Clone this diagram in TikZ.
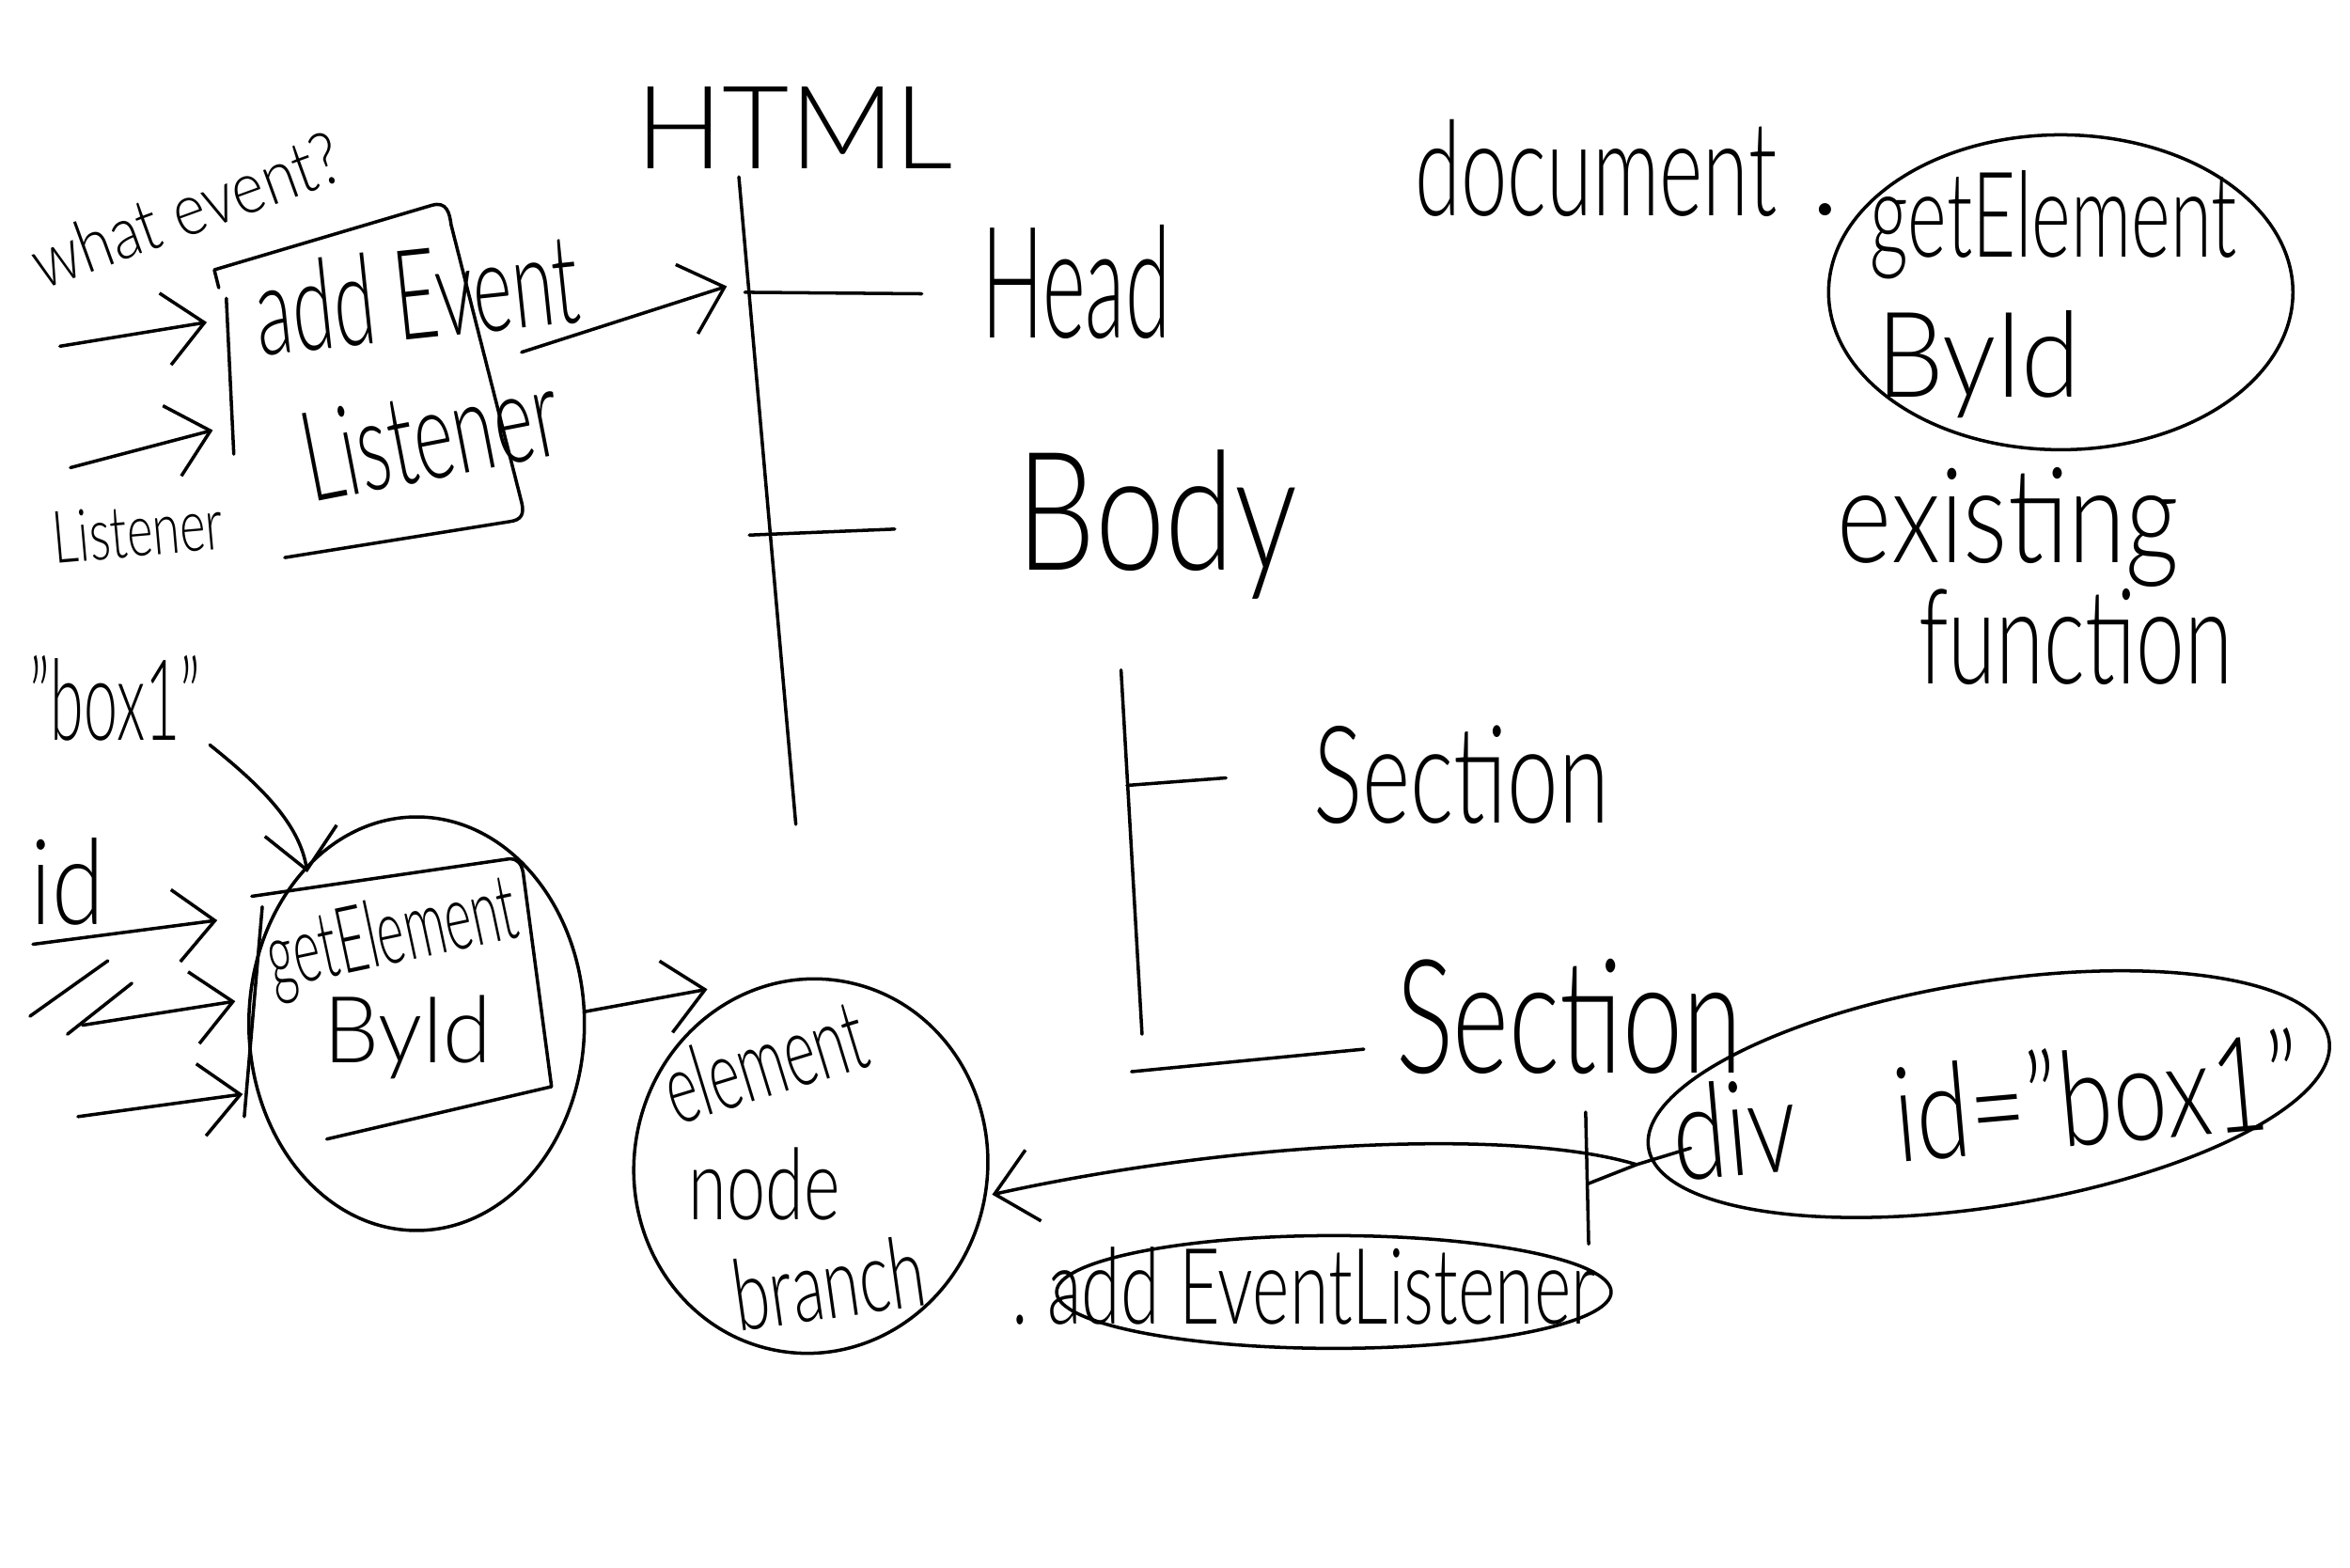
\documentclass[tikz,border=0pt]{standalone}
\usepackage{fontspec}
\setmainfont{Lato Light}
\usepackage{graphicx}
\usetikzlibrary{arrows.meta,shapes.geometric}
\newcommand\hwtext[3]{\fontsize{#1}{#1}\selectfont\scalebox{#2}[1]{#3}}
\tikzset{
  ink/.style={line width=1pt, line cap=round, line join=round},
  hwarrow/.style={ink, -{Straight Barb[length=12pt,width=22pt]}},
  lbl/.style={inner sep=0pt},
  bubble/.style={ink, draw, ellipse, inner sep=0pt},
}
\begin{document}
\begin{tikzpicture}[x=0.015944cm,y=-0.015944cm]
\useasboundingbox (0,0) rectangle (1568,1046);
\fill[white] (0,0) rectangle (1568,1046);

% ---------- addEventListener group (top left)
\node[lbl,rotate=20] (whatev) at (124,140) {\hwtext{22}{0.85}{what event?}};
\node[lbl,rotate=6] (addev) at (278,196) {\hwtext{38}{0.6}{add Event}};
\node[lbl,rotate=11] (listn) at (287,290) {\hwtext{38}{0.6}{Listener}};
\node[lbl,rotate=5] (listlab) at (92,354) {\hwtext{22}{0.68}{Listener}};
\draw[ink] (146,192) -- (143,180) -- (288,137) .. controls (298,134) and (300,142) .. (301,150)
  -- (348,335) .. controls (350,343) and (348,347) .. (340,348) -- (190,372);
\draw[ink] (151,199) -- (156,303);
\coordinate (a1s) at (40,231); \coordinate (a1e) at (138,215);
\coordinate (a2s) at (47,312); \coordinate (a2e) at (142,287);
\draw[hwarrow] (a1s) -- (a1e);
\draw[hwarrow] (a2s) -- (a2e);
\coordinate (a3s) at (348,235); \coordinate (a3e) at (485,191);
\draw[hwarrow] (a3s) -- (a3e);

% ---------- HTML tree
\node[lbl] (html) at (530,85) {\hwtext{35}{1}{HTML}};
\node[lbl] (head) at (718,188) {\hwtext{47}{0.53}{Head}};
\node[lbl] (body) at (772,350) {\hwtext{50}{0.76}{Body}};
\node[lbl] (sec1) at (975,517) {\hwtext{41}{0.68}{Section}};
\node[lbl] (sec2) at (1047,678) {\hwtext{48}{0.68}{Section}};
\coordinate (t0) at (493,118); \coordinate (t1) at (531,550);
\coordinate (hb0) at (497,195); \coordinate (hb1) at (615,196);
\coordinate (bb0) at (500,357); \coordinate (bb1) at (597,353);
\coordinate (v0) at (748,447); \coordinate (v1) at (762,690);
\coordinate (s1a) at (752,524); \coordinate (s1b) at (818,519);
\coordinate (s2a) at (755,715); \coordinate (s2b) at (910,700);
\coordinate (d0) at (1058,742); \coordinate (d1) at (1060,830);
\coordinate (dj) at (1059,790); \coordinate (J) at (1092,777);
\coordinate (dd) at (1128,766);
\draw[ink] (t0) -- (t1);
\draw[ink] (hb0) -- (hb1);
\draw[ink] (bb0) -- (bb1);
\draw[ink] (v0) -- (v1);
\draw[ink] (s1a) -- (s1b);
\draw[ink] (s2a) -- (s2b);
\draw[ink] (d0) -- (d1);
\draw[ink] (dj) -- (J) -- (dd);

% ---------- div id="box1"
\node[bubble,minimum width=7.33cm,minimum height=2.39cm,rotate=9] (divell) at (1327,730) {};
\node[lbl,rotate=5] (divtxt) at (1325,737) {\hwtext{40}{0.74}{div\quad id="box1"}};

% ---------- element node branch
\node[bubble,minimum width=3.76cm,minimum height=3.99cm,rotate=-10] (elem) at (541,778) {};
\node[lbl,rotate=17] (elem1) at (510,708) {\hwtext{30}{0.6}{element}};
\node[lbl] (elem2) at (510,790) {\hwtext{30}{0.7}{node}};
\node[lbl,rotate=8] (elem3) at (553,856) {\hwtext{30}{0.66}{branch}};
\coordinate (et) at (662,797);
\draw[hwarrow] (J) .. controls (1010,752) and (820,762) .. (et);

% ---------- .addEventListener
\node[bubble,minimum width=5.9cm,minimum height=1.2cm] (aelell) at (890,862) {};
\node[lbl] (aeltxt) at (870,858) {\hwtext{32}{0.67}{.\ add EventListener}};

% ---------- getElementById (left)
\node[bubble,minimum width=3.57cm,minimum height=4.4cm] (gcirc) at (278,683) {};
\draw[ink] (168,598) -- (340,573) .. controls (346,573) and (348,577) .. (349,582)
  -- (368,725) -- (218,760);
\draw[ink] (175,605) -- (163,745);
\node[lbl,rotate=12] (gel) at (262,626) {\hwtext{28}{0.56}{getElement}};
\node[lbl] (gby) at (272,692) {\hwtext{28}{0.95}{ById}};
\node[lbl] (idl) at (45,588) {\hwtext{36}{0.8}{id}};
\node[lbl] (boxl) at (77,466) {\hwtext{34}{0.54}{"box1"}};
\coordinate (b1s) at (140,497); \coordinate (b1e) at (205,582);
\draw[hwarrow] (b1s) .. controls (175,525) and (200,550) .. (b1e);
\coordinate (i1s) at (22,630); \coordinate (i1e) at (145,614);
\coordinate (i2s) at (55,684); \coordinate (i2e) at (157,668);
\coordinate (i3s) at (52,745); \coordinate (i3e) at (162,730);
\draw[hwarrow] (i1s) -- (i1e);
\draw[hwarrow] (i2s) -- (i2e);
\draw[hwarrow] (i3s) -- (i3e);
\coordinate (q1a) at (20,678); \coordinate (q1b) at (72,641);
\coordinate (q2a) at (45,690); \coordinate (q2b) at (88,656);
\draw[ink] (q1a) -- (q1b);
\draw[ink] (q2a) -- (q2b);
\coordinate (g2s) at (390,675); \coordinate (g2e) at (472,660);
\draw[hwarrow] (g2s) -- (g2e);

% ---------- document.getElementById (top right)
\node[lbl] (doc) at (1065,112) {\hwtext{40}{0.63}{document}};
\node[lbl] (dot) at (1218,140) {\hwtext{40}{1}{.}};
\node[bubble,minimum width=4.94cm,minimum height=3.35cm] (gid) at (1375,195) {};
\node[lbl] (gid1) at (1370,150) {\hwtext{36}{0.63}{getElement}};
\node[lbl] (gid2) at (1320,243) {\hwtext{36}{0.9}{ById}};
\node[lbl] (exist) at (1340,352) {\hwtext{40}{0.79}{existing}};
\node[lbl] (func) at (1385,425) {\hwtext{40}{0.66}{function}};
\end{tikzpicture}
\end{document}
